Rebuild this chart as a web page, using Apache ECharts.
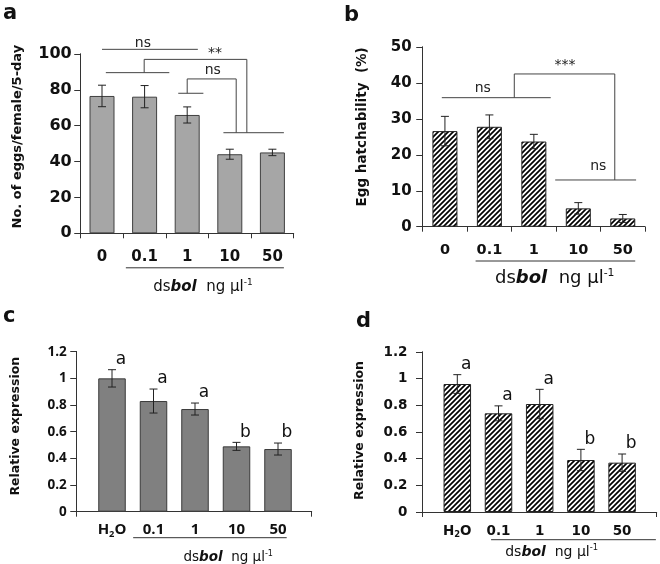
<!DOCTYPE html>
<html>
<head>
<meta charset="utf-8">
<script src="https://cdn.jsdelivr.net/npm/echarts@6/dist/echarts.min.js"></script>
<style>
html,body{margin:0;padding:0;background:#fff;}
#chart{width:660px;height:564px;background:#fff;}
</style>
</head>
<body>
<div id="chart"></div>
<script>
// ---------- data ----------
const catsAB = ['0', '0.1', '1', '10', '50'];
const catsCD = ['H2O', '0.1', '1', '10', '50'];

const eggs = [76.6, 76.2, 66.0, 44.1, 45.1];
const eggsErr = [6.0, 6.2, 4.5, 2.8, 1.8];

const hatch = [26.6, 27.8, 23.7, 5.1, 2.3];
const hatchErr = [4.1, 3.3, 2.0, 1.6, 1.1];

const exprC = [1.00, 0.83, 0.77, 0.49, 0.47];
const exprCErr = [0.065, 0.09, 0.045, 0.03, 0.045];
const lettersC = ['a', 'a', 'a', 'b', 'b'];

const exprD = [0.96, 0.74, 0.81, 0.39, 0.37];
const exprDErr = [0.07, 0.056, 0.11, 0.08, 0.065];
const lettersD = ['a', 'a', 'a', 'b', 'b'];

// significance brackets, in (category index, value) units
const sigLinesA = [
  [0.0, 102.6, 2.25, 102.6],
  [0.09, 89.6, 1.58, 89.6],
  [0.99, 89.6, 0.99, 97.0],
  [0.99, 97.0, 3.40, 97.0],
  [3.40, 97.0, 3.40, 56.1],
  [1.79, 78.1, 2.38, 78.1],
  [2.00, 78.1, 2.00, 86.1],
  [2.00, 86.1, 3.15, 86.1],
  [3.15, 86.1, 3.15, 56.1],
  [2.85, 56.1, 4.27, 56.1]
];
const sigTextA = [[0.96, 106.1], [2.65, 100.3], [2.60, 90.7]];
const sigLabelA = ['ns', '**', 'ns'];

const sigLinesB = [
  [-0.07, 35.9, 2.38, 35.9],
  [1.56, 35.9, 1.56, 42.5],
  [1.56, 42.5, 3.82, 42.5],
  [3.82, 42.5, 3.82, 13.0],
  [2.48, 13.0, 4.30, 13.0]
];
const sigTextB = [[0.85, 38.5], [2.70, 45.0], [3.45, 16.7]];
const sigLabelB = ['ns', '***', 'ns'];

// dose underline span and dose-title centre (category index units)
const doseA = [0.56, 4.27, 2.37];
const doseB = [0.69, 4.28, 2.47];
const doseC = [0.51, 4.21, 2.80];
const doseD = [0.82, 4.82, 2.29];

// ---------- helpers ----------
const AX = '#333';
const WIDE = 'DejaVu Sans';
const OPEN = 'Open Sans';

// pixel position of a fractional category index u at value y, via the axis scales
function catCoord(api, u, y) {
  const c0 = api.coord([0, y]);
  const c1 = api.coord([1, y]);
  return [c0[0] + u * (c1[0] - c0[0]), c0[1]];
}

// same crisp-line rounding as the library uses for 1px axis lines
function crisp(p) {
  const d = Math.round(p * 2);
  return (d + 1) % 2 === 0 ? d / 2 : (d + 1) / 2;
}

function hatchPattern() {
  const s = 5;
  const c = document.createElement('canvas');
  c.width = s; c.height = s;
  const g = c.getContext('2d');
  g.fillStyle = '#fff';
  g.fillRect(0, 0, s, s);
  g.strokeStyle = '#000';
  g.lineWidth = 1.7;
  g.beginPath();
  g.moveTo(-1, s + 1); g.lineTo(s + 1, -1);
  g.moveTo(-1, 1); g.lineTo(1, -1);
  g.moveTo(s - 1, s + 1); g.lineTo(s + 1, s - 1);
  g.stroke();
  return { image: c, repeat: 'repeat' };
}

function errSeries(gi, vals, errs) {
  return {
    type: 'custom', xAxisIndex: gi, yAxisIndex: gi, z: 5, silent: true,
    data: vals.map((v, i) => [i, v]),
    renderItem: function (params, api) {
      const x = api.value(0), m = api.value(1), e = errs[params.dataIndex];
      const t = api.coord([x, m + e]), b = api.coord([x, m - e]);
      const w = 4;
      return { type: 'group', children: [
        { type: 'line', shape: { x1: t[0], y1: t[1], x2: b[0], y2: b[1] }, style: { stroke: '#222', lineWidth: 1 } },
        { type: 'line', shape: { x1: t[0] - w, y1: t[1], x2: t[0] + w, y2: t[1] }, style: { stroke: '#222', lineWidth: 1 } },
        { type: 'line', shape: { x1: b[0] - w, y1: b[1], x2: b[0] + w, y2: b[1] }, style: { stroke: '#222', lineWidth: 1 } }
      ]};
    }
  };
}

function letterSeries(gi, vals, errs, letters) {
  return {
    type: 'custom', xAxisIndex: gi, yAxisIndex: gi, z: 6, silent: true,
    data: vals.map((v, i) => [i, v + errs[i]]),
    renderItem: function (params, api) {
      const p = api.coord([api.value(0), api.value(1)]);
      return { type: 'text', style: { text: letters[params.dataIndex], x: p[0] + 9, y: p[1] - 10,
        textAlign: 'center', textVerticalAlign: 'middle', font: '17px ' + WIDE, fill: '#111' } };
    }
  };
}

function sigLineSeries(gi, lines) {
  return {
    type: 'custom', xAxisIndex: gi, yAxisIndex: gi, z: 6, silent: true, clip: false,
    data: lines.map(() => [0, 0]),
    renderItem: function (params, api) {
      const l = lines[params.dataIndex];
      const a = catCoord(api, l[0], l[1]);
      const b = catCoord(api, l[2], l[3]);
      return { type: 'line', shape: { x1: a[0], y1: a[1], x2: b[0], y2: b[1] },
        style: { stroke: '#444', lineWidth: 1 } };
    }
  };
}

function sigTextSeries(gi, pts, labels) {
  return {
    type: 'custom', xAxisIndex: gi, yAxisIndex: gi, z: 6, silent: true, clip: false,
    data: pts.map(() => [0, 0]),
    renderItem: function (params, api) {
      const q = pts[params.dataIndex];
      const p = catCoord(api, q[0], q[1]);
      return { type: 'text', style: { text: labels[params.dataIndex], x: p[0], y: p[1],
        textAlign: 'center', textVerticalAlign: 'middle', font: '14px ' + WIDE, fill: '#222' } };
    }
  };
}

function doseSeries(gi, dose, lineDy, textDy, size, fam) {
  return {
    type: 'custom', xAxisIndex: gi, yAxisIndex: gi, z: 6, silent: true, clip: false,
    data: [[0, 0]],
    renderItem: function (params, api) {
      const a = catCoord(api, dose[0], 0);
      const b = catCoord(api, dose[1], 0);
      const c = catCoord(api, dose[2], 0);
      return { type: 'group', children: [
        { type: 'line', shape: { x1: a[0], y1: a[1] + lineDy, x2: b[0], y2: b[1] + lineDy },
          style: { stroke: '#333', lineWidth: 1 } },
        { type: 'text', style: {
          text: '{r|ds}{bi|bol}{r|  ng µl}{sup|-1}',
          x: c[0], y: c[1] + textDy, textAlign: 'center', textVerticalAlign: 'middle',
          rich: {
            r: { fontFamily: fam, fontSize: size, fill: '#111', lineHeight: size * 1.2 },
            bi: { fontFamily: fam, fontSize: size, fontWeight: 'bold', fontStyle: 'italic', fill: '#111', lineHeight: size * 1.2 },
            sup: { fontFamily: fam, fontSize: size * 0.6, fill: '#111', verticalAlign: 'top', lineHeight: size * 1.2 }
          }
        } }
      ]};
    }
  };
}

// value-axis line and ticks, placed through the grid's own scales (top layer)
function yLineSeries(gi, max, interval, offset) {
  const ticks = [];
  for (let k = 0; k * interval <= max + 1e-9; k++) ticks.push(+(k * interval).toFixed(6));
  return {
    type: 'custom', xAxisIndex: gi, yAxisIndex: gi, zlevel: 1, z: 100, silent: true, clip: false,
    data: ticks.map(() => [0, 0]),
    renderItem: function (params, api) {
      const v = ticks[params.dataIndex];
      const p = catCoord(api, -0.5, v);
      const x = crisp(p[0] - offset);
      const y = crisp(p[1]);
      const kids = [{ type: 'line', shape: { x1: x - 6, y1: y, x2: x, y2: y }, style: { stroke: AX, lineWidth: 1 } }];
      if (params.dataIndex === 0) {
        const top = catCoord(api, -0.5, max);
        kids.push({ type: 'line', shape: { x1: x, y1: y, x2: x, y2: top[1] }, style: { stroke: AX, lineWidth: 1 } });
      }
      return { type: 'group', children: kids };
    }
  };
}

function valY(gi, max, interval, name, nameGap, nameSize, shift, labelSize, labelMargin, fam, offset) {
  const ax = {
    type: 'value', gridIndex: gi, min: 0, max: max, interval: interval, z: 50,
    name: name, nameLocation: 'middle', nameGap: nameGap,
    nameTextStyle: { fontFamily: WIDE, fontWeight: 'bold', fontSize: nameSize, color: '#111', padding: [0, 0, 0, shift] },
    axisLine: { show: true, lineStyle: { color: AX } },
    axisTick: { show: true, length: 6, lineStyle: { color: AX } },
    splitLine: { show: false },
    axisLabel: { fontFamily: fam, fontWeight: 'bold', fontSize: labelSize, color: '#111', margin: labelMargin }
  };
  if (offset) ax.offset = offset;
  return ax;
}

// plain y axis (line + ticks only) in a frame grid whose left edge is the axis position
function decoY(gi, max, interval) {
  return {
    type: 'value', gridIndex: gi, min: 0, max: max, interval: interval,
    axisLine: { show: true, lineStyle: { color: AX } },
    axisTick: { show: true, length: 6, lineStyle: { color: AX } },
    axisLabel: { show: false }, splitLine: { show: false }
  };
}

function catX(gi, cats, showLine, labelSize, margin, fam) {
  return {
    type: 'category', gridIndex: gi, data: cats,
    axisLine: { show: showLine, lineStyle: { color: AX } },
    axisTick: { show: showLine, length: 5, lineStyle: { color: AX } },
    axisLabel: {
      margin: margin, interval: 0,
      formatter: function (v) { return v === 'H2O' ? '{n|H}{s|2}{n|O}' : '{n|' + v + '}'; },
      rich: {
        n: { fontFamily: fam, fontWeight: 'bold', fontSize: labelSize, color: '#111', lineHeight: labelSize * 1.2 },
        s: { fontFamily: fam, fontWeight: 'bold', fontSize: labelSize * 0.62, color: '#111', verticalAlign: 'bottom', lineHeight: labelSize * 0.9 }
      }
    }
  };
}

function decoX(gi) {
  return {
    type: 'value', gridIndex: gi, min: 0, max: 1, interval: 1,
    axisLine: { show: true, lineStyle: { color: AX } },
    axisTick: { show: true, length: 5, lineStyle: { color: AX } },
    axisLabel: { show: false }, splitLine: { show: false }
  };
}

function hiddenX(gi) {
  return { type: 'value', gridIndex: gi, min: 0, max: 1, show: false };
}

const hatchFill = hatchPattern();

const option = {
  animation: false,
  grid: [
    { left: 80.7, top: 54, width: 213, height: 179.3, outerBoundsMode: 'none', containLabel: false },
    { left: 422.7, top: 47, width: 222.3, height: 179.7, outerBoundsMode: 'none', containLabel: false },
    { left: 91.25, top: 351.7, width: 207.5, height: 160, outerBoundsMode: 'none', containLabel: false },
    { left: 436.7, top: 352, width: 206, height: 160, outerBoundsMode: 'none', containLabel: false },
    { left: 76.7, top: 351.7, width: 235, height: 160, outerBoundsMode: 'none', containLabel: false },
    { left: 422, top: 352, width: 234.7, height: 160, outerBoundsMode: 'none', containLabel: false },
    { left: 80.7, top: 54, width: 213, height: 179.3, outerBoundsMode: 'none', containLabel: false },
    { left: 422.7, top: 47, width: 222.3, height: 179.7, outerBoundsMode: 'none', containLabel: false }
  ],
  xAxis: [
    catX(0, catsAB, true, 15, 14.5, WIDE),
    catX(1, catsAB, true, 14.5, 15, WIDE),
    catX(2, catsCD, false, 15, 9, OPEN),
    catX(3, catsCD, false, 13.5, 11, WIDE),
    decoX(4),
    decoX(5),
    hiddenX(6),
    hiddenX(7)
  ],
  yAxis: [
    valY(0, 100, 20, 'No. of eggs/female/5-day', 57, 13, 14, 16, 9, WIDE),
    valY(1, 50, 10, 'Egg hatchability  (%)', 53, 13.5, 20, 15, 11, WIDE),
    valY(2, 1.2, 0.2, 'Relative expression', 54, 12.5, 11, 13.5, 10, OPEN, 14.55),
    valY(3, 1.2, 0.2, 'Relative expression', 56, 12.5, 3, 13.5, 14.5, WIDE, 14.7),
    decoY(4, 1.2, 0.2),
    decoY(5, 1.2, 0.2),
    decoY(6, 100, 20),
    decoY(7, 50, 10)
  ],
  graphic: [
    { type: 'text', style: { text: 'a', x: 3, y: 24, textVerticalAlign: 'bottom', font: 'bold 21px ' + WIDE, fill: '#111' } },
    { type: 'text', style: { text: 'b', x: 344, y: 26, textVerticalAlign: 'bottom', font: 'bold 21px ' + WIDE, fill: '#111' } },
    { type: 'text', style: { text: 'c', x: 3, y: 327, textVerticalAlign: 'bottom', font: 'bold 21px ' + WIDE, fill: '#111' } },
    { type: 'text', style: { text: 'd', x: 356, y: 332, textVerticalAlign: 'bottom', font: 'bold 21px ' + WIDE, fill: '#111' } }
  ],
  series: [
    { type: 'bar', xAxisIndex: 0, yAxisIndex: 0, data: eggs, barWidth: 25,
      itemStyle: { color: '#a6a6a6', borderColor: '#404040', borderWidth: 1 } },
    errSeries(0, eggs, eggsErr),
    sigLineSeries(0, sigLinesA),
    sigTextSeries(0, sigTextA, sigLabelA),
    doseSeries(0, doseA, 34.5, 54, 15, WIDE),
    yLineSeries(0, 100, 20, 0),

    { type: 'bar', xAxisIndex: 1, yAxisIndex: 1, data: hatch, barWidth: 25,
      itemStyle: { color: hatchFill, borderColor: '#222', borderWidth: 1 } },
    errSeries(1, hatch, hatchErr),
    sigLineSeries(1, sigLinesB),
    sigTextSeries(1, sigTextB, sigLabelB),
    doseSeries(1, doseB, 34.3, 52, 18, WIDE),
    yLineSeries(1, 50, 10, 0),

    { type: 'bar', xAxisIndex: 2, yAxisIndex: 2, data: exprC, barWidth: 27.5,
      itemStyle: { color: '#808080', borderColor: '#3a3a3a', borderWidth: 1 } },
    errSeries(2, exprC, exprCErr),
    letterSeries(2, exprC, exprCErr, lettersC),
    doseSeries(2, doseC, 26, 46, 13.5, WIDE),
    yLineSeries(2, 1.2, 0.2, 14.55),

    { type: 'bar', xAxisIndex: 3, yAxisIndex: 3, data: exprD, barWidth: 27.5,
      itemStyle: { color: hatchFill, borderColor: '#222', borderWidth: 1 } },
    errSeries(3, exprD, exprDErr),
    letterSeries(3, exprD, exprDErr, lettersD),
    doseSeries(3, doseD, 27.7, 40.5, 14, WIDE),
    yLineSeries(3, 1.2, 0.2, 14.7)
  ]
};

const chart = echarts.init(document.getElementById('chart'), null, { renderer: 'canvas' });
chart.setOption(option);
</script>
</body>
</html>
